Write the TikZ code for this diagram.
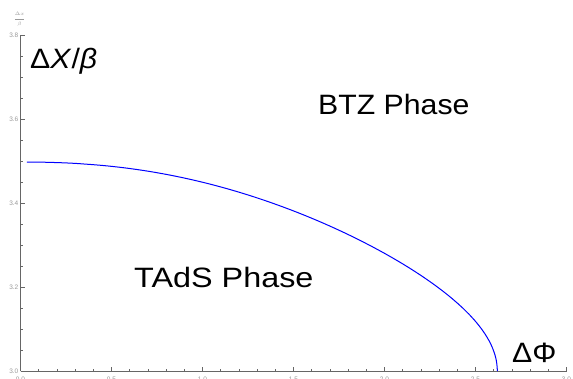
\documentclass[tikz,border=0pt]{standalone}
\usepackage{fontspec}
\setmainfont{Liberation Sans}
\newfontfamily\labfont[FakeStretch=1.08]{Liberation Sans}
\definecolor{axisgray}{HTML}{666666}
\definecolor{ticklab}{HTML}{999999}
\tikzset{
  lab/.style={font=\labfont\fontsize{28}{30}\selectfont, inner sep=0pt, anchor=base west},
  axisline/.style={draw=axisgray, line width=0.8pt},
  majortick/.style={draw=axisgray, line width=0.6pt},
  minortick/.style={draw=axisgray, line width=0.5pt},
  ticklabel/.style={font=\fontsize{6.5}{7}\selectfont, text=ticklab, inner sep=0.5pt},
  curve/.style={draw=blue, line width=1pt, line join=round}
}
\begin{document}
\begin{tikzpicture}[x=1pt, y=-1pt]
\clip (0,0) rectangle (573,378);
\fill[white] (0,0) rectangle (573,378);
% axes
\coordinate (O) at (20.5,371);
\coordinate (xend) at (566.5,371);
\coordinate (yend) at (20.5,35);
\draw[axisline] (O) -- (xend);
\draw[axisline] (O) -- (yend);
% x ticks
\foreach \i in {0,...,30}{
  \pgfmathsetmacro{\xx}{20.5+18.2*\i}
  \pgfmathtruncatemacro{\m}{mod(\i,5)}
  \ifnum\m=0
    \draw[majortick] (\xx,371) -- (\xx,366.5);
  \else
    \draw[minortick] (\xx,371) -- (\xx,368.5);
  \fi
}
\foreach \v/\xx in {0.0/20.5,0.5/111.5,1.0/202.5,1.5/293.5,2.0/384.5,2.5/475.5,3.0/566.5}{
  \node[ticklabel, anchor=north] (xl\v) at (\xx,376) {\v};
}
% y ticks
\foreach \i in {0,...,16}{
  \pgfmathsetmacro{\yy}{371-21*\i}
  \pgfmathtruncatemacro{\m}{mod(\i,4)}
  \ifnum\m=0
    \draw[majortick] (20.5,\yy) -- (25,\yy);
  \else
    \draw[minortick] (20.5,\yy) -- (23,\yy);
  \fi
}
\foreach \v/\yy in {3.0/371,3.2/287,3.4/203,3.6/119,3.8/35}{
  \node[ticklabel, anchor=east] (yl\v) at (19,\yy) {\v};
}
\node[ticklabel, font=\fontsize{4.5}{5}\selectfont] (ylab) at (19.5,19.5) {$\displaystyle\frac{\Delta x}{\beta}$};
% phase boundary curve, parametrised by t with u = 1 - t^2
\draw[curve] plot[domain=0.9932:0, samples=160, variable=\t]
  ({20.5+476.8*(1-\t*\t)},
   {371-209*sqrt(max(0,1-(1-\t*\t+0.000001)^(2.1-0.9*(1-\t*\t))))});
% labels
\node[lab] (dxb) at (30,68) {Δ\textit{X}/\textit{β}};
\node[lab] (btz) at (318,114) {BTZ Phase};
\node[lab, xscale=1.07] (tads) at (134,287) {TAdS Phase};
\node[lab] (dphi) at (512,362) {ΔΦ};
\end{tikzpicture}
\end{document}
